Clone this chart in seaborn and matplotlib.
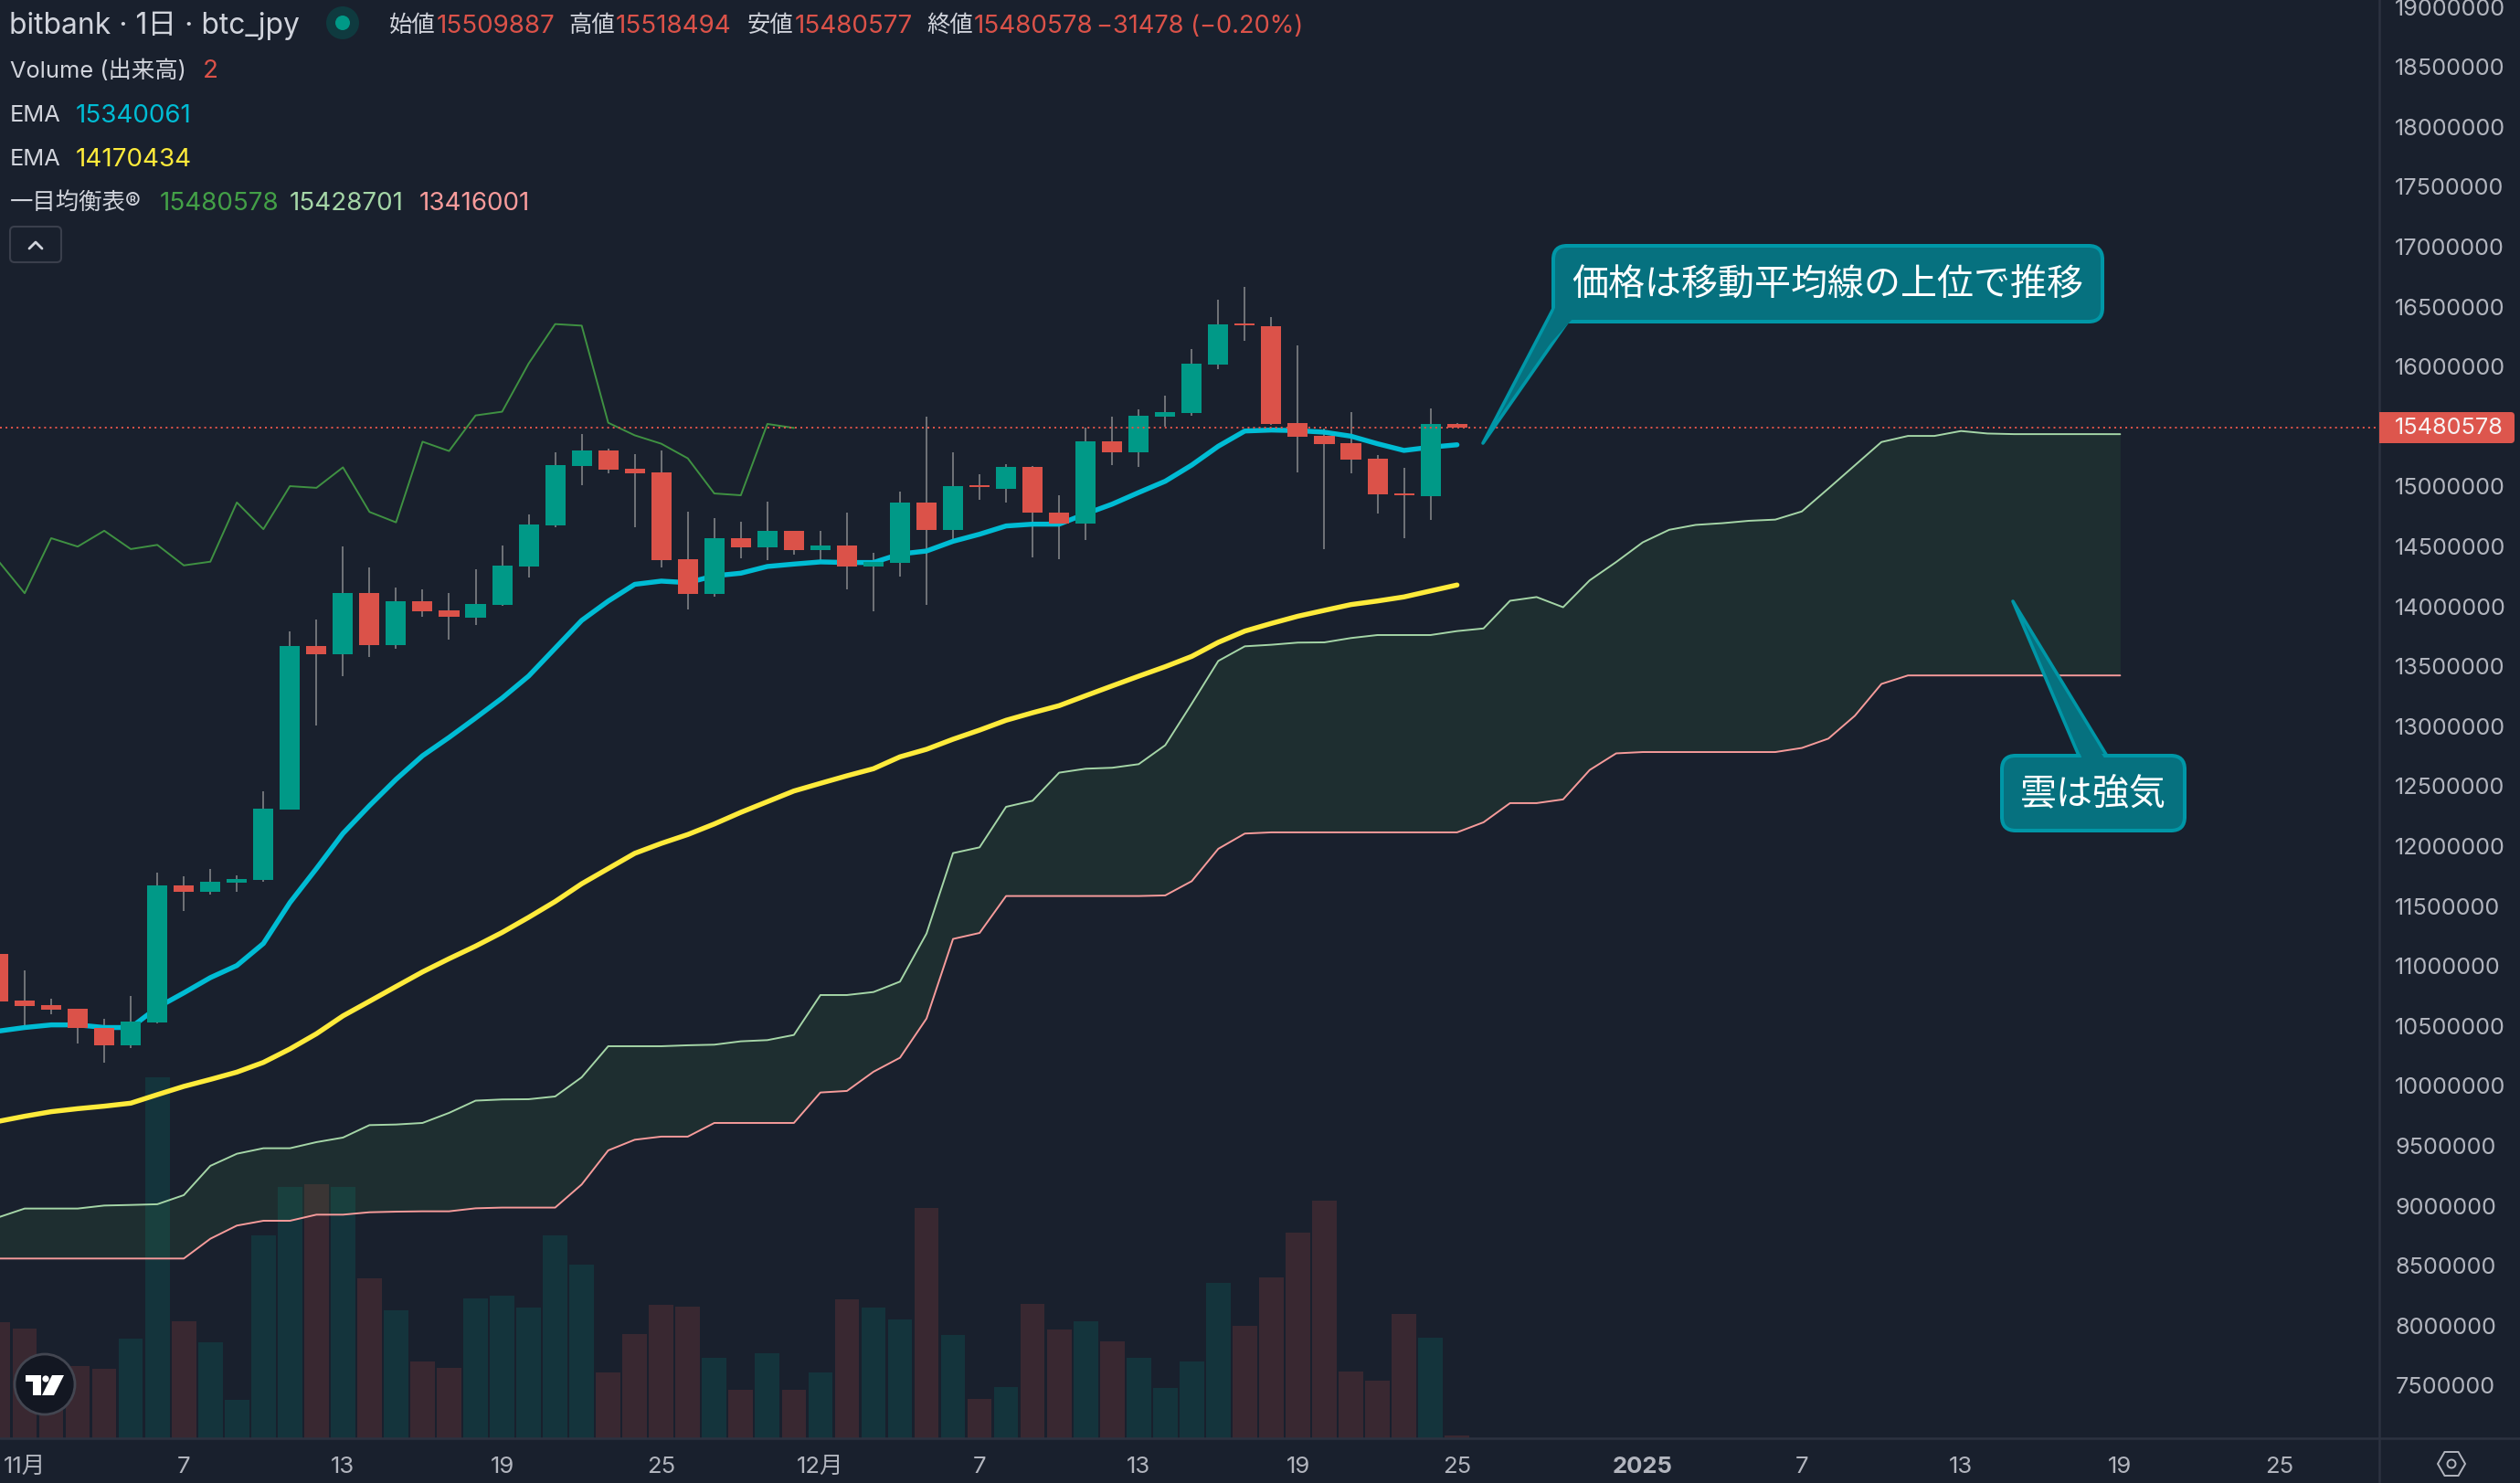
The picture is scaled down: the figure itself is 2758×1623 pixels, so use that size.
import numpy as np
import pandas as pd
import matplotlib
matplotlib.use("Agg")
import matplotlib.pyplot as plt
import seaborn as sns
from matplotlib.lines import Line2D
from matplotlib.patches import FancyBboxPatch, Polygon, Circle, RegularPolygon, Rectangle
from matplotlib.transforms import Affine2D

# ---------- data (prices in millions of JPY) ----------
days = list(range(-1, 55))
opens = [11.092, 10.703, 10.663, 10.637, 10.479, 10.330, 10.519, 11.665, 11.612, 11.687,
         11.709, 12.295, 13.660, 13.590, 14.102, 13.669, 14.036, 13.958, 13.896, 14.006,
         14.325, 14.667, 15.161, 15.292, 15.139, 15.109, 14.387, 14.094, 14.561, 14.485,
         14.622, 14.462, 14.500, 14.325, 14.355, 14.858, 14.629, 15.003, 14.972, 15.155,
         14.774, 14.683, 15.369, 15.277, 15.575, 15.605, 16.009, 16.352, 16.329, 15.521,
         15.414, 15.354, 15.224, 14.934, 14.911, 15.509887]
closes = [10.698, 10.659, 10.628, 10.475, 10.330, 10.527, 11.665, 11.612, 11.696, 11.718,
          12.304, 13.660, 13.590, 14.102, 13.669, 14.036, 13.949, 13.905, 14.010, 14.330,
          14.675, 15.170, 15.292, 15.130, 15.100, 14.378, 14.094, 14.562, 14.485, 14.622,
          14.462, 14.500, 14.325, 14.363, 14.858, 14.629, 14.995, 14.988, 15.155, 14.774,
          14.683, 15.369, 15.277, 15.582, 15.613, 16.017, 16.345, 16.337, 15.514, 15.407,
          15.346, 15.216, 14.927, 14.919, 15.514, 15.480578]
highs = [11.092, 10.952, 10.720, 10.637, 10.549, 10.742, 11.770, 11.739, 11.801, 11.748,
         12.448, 13.783, 13.884, 14.491, 14.316, 14.150, 14.133, 14.102, 14.303, 14.500,
         14.758, 15.279, 15.428, 15.305, 15.262, 15.292, 14.781, 14.728, 14.698, 14.866,
         14.622, 14.622, 14.774, 14.439, 14.950, 15.575, 15.277, 15.094, 15.178, 15.163,
         14.919, 15.483, 15.575, 15.636, 15.750, 16.139, 16.550, 16.657, 16.405, 16.169,
         15.476, 15.613, 15.255, 15.148, 15.643, 15.518494]
lows = [10.698, 10.493, 10.593, 10.344, 10.182, 10.304, 10.515, 11.451, 11.587, 11.612,
        11.696, 12.295, 12.999, 13.411, 13.568, 13.638, 13.905, 13.713, 13.835, 14.000,
        14.233, 14.654, 15.004, 15.100, 14.654, 14.317, 13.967, 14.076, 14.393, 14.378,
        14.424, 14.378, 14.134, 13.951, 14.241, 14.004, 14.546, 14.881, 14.858, 14.401,
        14.386, 14.546, 15.171, 15.155, 15.491, 15.582, 15.971, 16.207, 15.506, 15.110,
        14.469, 15.102, 14.767, 14.561, 14.713, 15.480577]
volumes = [127, 120, 57, 79, 76, 109, 395, 128, 105, 42, 222, 275, 278, 275, 175, 140, 84, 77,
           153, 156, 143, 222, 190, 72, 114, 146, 144, 88, 53, 93, 53, 72, 152, 143, 130, 252,
           113, 43, 56, 147, 119, 128, 106, 88, 55, 84, 170, 123, 176, 225, 260, 73, 63, 136,
           110, 3]
ema_fast = [10.449, 10.479, 10.501, 10.501, 10.479, 10.479, 10.646, 10.768, 10.895, 10.996,
            11.180, 11.521, 11.805, 12.098, 12.330, 12.549, 12.746, 12.899, 13.061, 13.227,
            13.411, 13.643, 13.875, 14.036, 14.176, 14.203, 14.190, 14.247, 14.269, 14.325,
            14.345, 14.363, 14.358, 14.358, 14.429, 14.454, 14.535, 14.594, 14.663, 14.678,
            14.678, 14.764, 14.845, 14.942, 15.036, 15.171, 15.328, 15.455, 15.463, 15.458,
            15.445, 15.412, 15.349, 15.293, 15.320, 15.340061]
ema_slow = [9.696, 9.739, 9.777, 9.802, 9.823, 9.848, 9.919, 9.988, 10.046, 10.107,
            10.188, 10.300, 10.427, 10.576, 10.698, 10.821, 10.943, 11.053, 11.158, 11.272,
            11.398, 11.530, 11.678, 11.805, 11.932, 12.015, 12.089, 12.177, 12.274, 12.363,
            12.452, 12.516, 12.579, 12.638, 12.737, 12.800, 12.884, 12.960, 13.042, 13.105,
            13.164, 13.247, 13.329, 13.410, 13.489, 13.575, 13.692, 13.786, 13.850, 13.910,
            13.959, 14.007, 14.037, 14.071, 14.121, 14.170434]
chikou = [14.373, 14.102, 14.561, 14.491, 14.623, 14.470, 14.505, 14.334, 14.365, 14.859,
          14.636, 14.995, 14.981, 15.152, 14.780, 14.693, 15.366, 15.288, 15.585, 15.616,
          16.018, 16.347, 16.334, 15.524, 15.419, 15.349, 15.227, 14.934, 14.919, 15.514,
          15.480578]
span_a = [8.895, 8.969, 8.969, 8.969, 8.994, 8.999, 9.005, 9.081, 9.325, 9.426, 9.472,
          9.472, 9.523, 9.561, 9.665, 9.670, 9.683, 9.767, 9.869, 9.879, 9.881,
          9.904, 10.064, 10.323, 10.323, 10.323, 10.331, 10.336, 10.364, 10.374, 10.417,
          10.750, 10.750, 10.775, 10.862, 11.263, 11.934, 11.982, 12.320, 12.371, 12.605,
          12.638, 12.646, 12.676, 12.834, 13.181, 13.537, 13.659, 13.672, 13.690, 13.692,
          13.728, 13.753, 13.753, 13.753, 13.786, 13.808, 14.039, 14.070, 13.985, 14.209,
          14.362, 14.526, 14.631, 14.672, 14.686, 14.706, 14.716, 14.784, 14.975, 15.169,
          15.363, 15.414, 15.414, 15.455, 15.434, 15.429, 15.429, 15.429, 15.429, 15.428701]
span_b = [8.552, 8.552, 8.552, 8.552, 8.552, 8.552, 8.552, 8.552, 8.717, 8.827, 8.867,
          8.867, 8.918, 8.918, 8.938, 8.943, 8.946, 8.946, 8.971, 8.977, 8.977,
          8.977, 9.170, 9.454, 9.543, 9.569, 9.569, 9.683, 9.683, 9.683, 9.683,
          9.937, 9.950, 10.110, 10.227, 10.554, 11.218, 11.268, 11.576, 11.576, 11.576,
          11.576, 11.576, 11.576, 11.581, 11.700, 11.970, 12.097, 12.107, 12.107, 12.107,
          12.107, 12.107, 12.107, 12.107, 12.107, 12.191, 12.351, 12.351, 12.382, 12.627,
          12.766, 12.777, 12.777, 12.777, 12.777, 12.777, 12.777, 12.811, 12.889, 13.080,
          13.345, 13.416, 13.416, 13.416, 13.416, 13.416, 13.416, 13.416, 13.416, 13.416001]
last_price = 15480578
x_tick_pos = [0, 6, 12, 18, 24, 30, 36, 42, 48, 54, 61, 67, 73, 79, 85]
x_tick_labels = ["11月", "7", "13", "19", "25", "12月", "7", "13", "19", "25", "2025", "7", "13", "19", "25"]
y_ticks = [p * 500000 for p in range(15, 39) if p != 31]

# ---------- style ----------
BG = "#19202D"
TEAL = "#009987"
RED = "#DB5249"
CYAN = "#00BCD4"
YELLOW = "#FFEB3B"
TXT = "#D1D4DC"
AXC = "#2C3240"
W, H = 2758, 1624
RIGHT, BOTTOM = 2604, 1575

sns.set_theme(style="dark", rc={"figure.facecolor": BG, "axes.facecolor": BG,
                                "savefig.facecolor": BG})
plt.rcParams["font.family"] = ["Inter", "Noto Sans CJK JP", "DejaVu Sans"]

fig = plt.figure(figsize=(W / 100, H / 100), dpi=100)
ax = fig.add_axes([0, (H - BOTTOM) / H, RIGHT / W, BOTTOM / H])
axv = ax.twinx()
ax.set_zorder(2)
axv.set_zorder(1)
ax.patch.set_visible(False)

x = np.array(days)
o, c, hi, lo = [np.array(v) * 1e6 for v in (opens, closes, highs, lows)]
up = c >= o

# volume
vol_df = pd.DataFrame({"idx": days, "volume": volumes,
                       "dir": np.where(up, "up", "down")})
sns.barplot(data=vol_df, x="idx", y="volume", hue="dir",
            palette={"up": TEAL, "down": RED}, native_scale=True, dodge=False,
            width=0.92, alpha=0.17, saturation=1, linewidth=0, legend=False, ax=axv)
axv.set_ylim(0, BOTTOM)

# cloud
xc = np.arange(-1, len(span_a) - 1)
a, b = np.array(span_a) * 1e6, np.array(span_b) * 1e6
ax.fill_between(xc, a, b, color="#4CAF50", alpha=0.10, linewidth=0, zorder=1)
sns.lineplot(x=xc, y=a, color="#A5D6A7", linewidth=1.4, estimator=None, sort=False, ax=ax, zorder=2)
sns.lineplot(x=xc, y=b, color="#F79B9B", linewidth=1.4, estimator=None, sort=False, ax=ax, zorder=2)
xk = np.arange(-1, len(chikou) - 1)
sns.lineplot(x=xk, y=np.array(chikou) * 1e6, color="#3F9142", linewidth=1.4, estimator=None,
             sort=False, ax=ax, zorder=2)

# EMAs
for vals, col in ((ema_slow, YELLOW), (ema_fast, CYAN)):
    sns.lineplot(x=x, y=np.array(vals) * 1e6, color=col, linewidth=3.9, estimator=None, sort=False,
                 solid_capstyle="round", ax=ax, zorder=3)

# candles
ax.vlines(x, lo, hi, color="#6E7176", linewidth=1.45, zorder=2.5)
ax.bar(x, np.abs(c - o), bottom=np.minimum(o, c), width=0.76,
       color=[TEAL if u else RED for u in up], linewidth=0, zorder=4)

# last price
ax.axhline(last_price, color=RED, linewidth=1.45, linestyle=(0, (1, 2)), zorder=5)

# axes
ax.set_xlim(-0.93, 88.77)
ax.set_ylim(7053000, 19058000)
ax.yaxis.tick_right()
ax.set_yticks(y_ticks)
ax.set_yticklabels([str(v) for v in y_ticks])
ax.set_xticks(x_tick_pos)
ax.set_xticklabels(x_tick_labels)
ax.tick_params(axis="both", length=0, colors="#B2B5BE")
ax.tick_params(axis="y", labelsize=18.2, pad=12.5)
ax.tick_params(axis="x", labelsize=18.5, pad=13.5)
for t in ax.get_xticklabels():
    if t.get_text() == "2025":
        t.set_fontweight("bold")
ax.set_xlabel("")
ax.set_ylabel("")
axv.set_ylabel("")
axv.set_xlabel("")
axv.tick_params(left=False, right=False, labelleft=False, labelright=False)
axv.xaxis.set_visible(False)
for a_ in (ax, axv):
    for s in a_.spines.values():
        s.set_visible(False)

# ---------- pixel-space furniture ----------
px = Affine2D().scale(1, -1).translate(0, H)


def add(p, z=6):
    p.set_transform(px)
    p.set_zorder(z)
    fig.add_artist(p)
    return p


def label(xp, yp, s, color=TXT, size=18.3, ha="left", **kw):
    fig.text(xp / W, 1 - yp / H, s, color=color, fontsize=size, ha=ha, va="center", zorder=9, **kw)


add(Line2D([0, W], [BOTTOM, BOTTOM], color=AXC, lw=1.8))
add(Line2D([RIGHT, RIGHT], [0, H], color=AXC, lw=1.8))

NUM = 20.0
# header
label(10, 28, "bitbank · 1日 · btc_jpy", size=22.9)
add(Circle((375, 26), 18, facecolor="#0F3A3F", edgecolor="none"))
add(Circle((375, 26), 8, facecolor=TEAL, edgecolor="none"))
for xp, key, val_x, val in ((426, "始値", 478, "15509887"), (622, "高値", 674, "15518494"),
                            (818, "安値", 870, "15480577"), (1014, "終値", 1066, "15480578")):
    label(xp, 28.5, key)
    label(val_x, 28.5, val, color=RED, size=NUM)
label(1200, 28.5, "\u221231478 (\u22120.20%)", color=RED, size=19.6)
label(11, 78, "Volume (出来高)")
label(222, 78, "2", color=RED, size=NUM)
label(11, 126.5, "EMA")
label(83, 126.5, "15340061", color=CYAN, size=NUM)
label(11, 174.5, "EMA")
label(83, 174.5, "14170434", color=YELLOW, size=NUM)
label(11, 222.5, "一目均衡表®")
label(175, 222.5, "15480578", color="#43A047", size=NUM)
label(317, 222.5, "15428701", color="#A5D6A7", size=NUM)
label(459, 222.5, "13416001", color="#F79B9B", size=NUM)

# collapse button
add(FancyBboxPatch((11, 249), 56, 39, boxstyle="round,pad=0,rounding_size=5",
                   facecolor=BG, edgecolor="#3A3F4C", lw=1.5))
add(Line2D([32, 39, 46], [273, 266, 273], color=TXT, lw=2))

# price tag
add(FancyBboxPatch((RIGHT, 452), 148, 34, boxstyle="round,pad=0,rounding_size=4",
                   facecolor="#DD564D", edgecolor="none"))
add(Rectangle((RIGHT, 452), 20, 34, facecolor="#DD564D", edgecolor="none"))
label(2740, 469, f"{last_price}", color="#F8F2F2", size=18.2, ha="right")


# callouts
def callout(x0, y0, x1, y1, tail, s):
    fill, edge = "#06717F", "#0097A7"
    add(Polygon(tail, closed=True, facecolor=fill, edgecolor=edge, lw=2.6, joinstyle="round"), 7)
    add(FancyBboxPatch((x0, y0), x1 - x0, y1 - y0, boxstyle="round,pad=0,rounding_size=15",
                       facecolor=fill, edgecolor=edge, lw=2.9), 7)
    fig.text((x0 + x1) / 2 / W, 1 - ((y0 + y1) / 2 + 0.5) / H, s, color="white", fontsize=28.8,
             ha="center", va="center", zorder=9, family=["Noto Sans CJK JP", "DejaVu Sans"])


callout(1700, 270, 2301, 353, [(1702, 335), (1623, 486), (1717, 351)], "価格は移動平均線の上位で推移")
add(Polygon([(1705, 331), (1722, 349), (1673, 403)], closed=True, facecolor="#06717F", edgecolor="none"), 8)
callout(2191, 828, 2391, 910, [(2276, 830), (2203, 659), (2307, 830)], "雲は強気")
add(Polygon([(2279, 832), (2304, 832), (2246, 745)], closed=True, facecolor="#06717F", edgecolor="none"), 8)

# logo
add(Circle((49, 1516), 33, facecolor="#131722", edgecolor="#434651", lw=2), 7)
add(Polygon([(28, 1506), (45, 1506), (45, 1528), (36, 1528), (36, 1513), (28, 1513)], closed=True,
            facecolor="white", edgecolor="none"), 8)
add(Circle((50, 1510), 3.6, facecolor="white", edgecolor="none"), 8)
add(Polygon([(57, 1506), (70, 1506), (59, 1528), (46, 1528)], closed=True,
            facecolor="white", edgecolor="none"), 8)

# settings icon
add(RegularPolygon((2683, 1603), 6, radius=15, orientation=np.pi / 2, facecolor="none",
                   edgecolor="#B2B5BE", lw=1.4), 8)
add(Circle((2683, 1603), 4.5, facecolor="none", edgecolor="#B2B5BE", lw=1.4), 8)

fig.savefig("out.png", dpi=100)
